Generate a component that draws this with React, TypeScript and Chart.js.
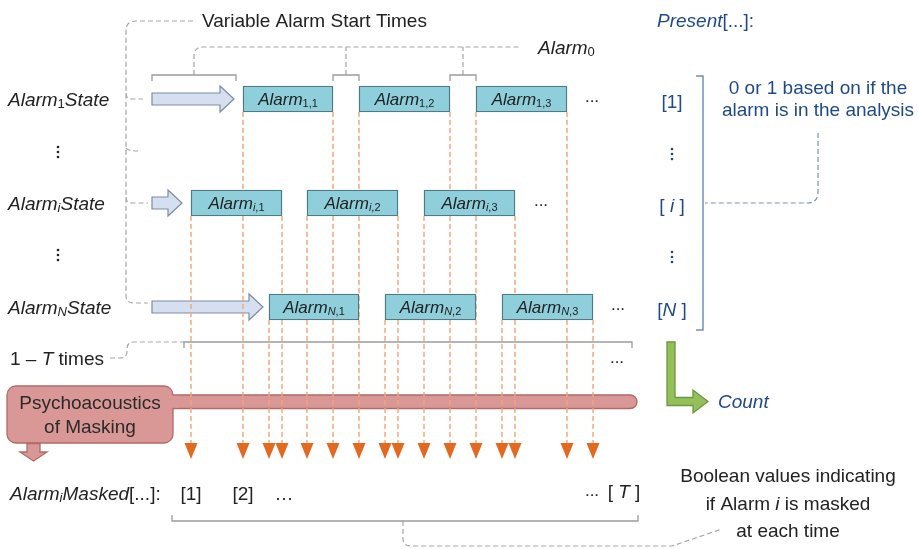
import React, { useEffect, useRef } from 'react';
import { Chart, registerables } from 'chart.js';

Chart.register(...registerables);

const W = 918;
const H = 549;

// ---- diagram data (time axis = x, rows = y) ----
const rowIds = ['1', 'i', 'N'];
const rowItalicSub = [false, true, true];
const rowY = [99, 203, 307];
const alarmStart = [
  [243, 359, 476],
  [191, 307, 424],
  [269, 385, 502],
];
const alarmEnd = [
  [333, 450, 567],
  [282, 398, 515],
  [359, 476, 593],
];
const stateArrowStart = 152;
const stateArrowTip = [234, 182, 263];
const rowEllipsisX = [592, 541, 618];
const boxHeight = 26;
const maskArrowTop = 443;
const maskArrowTip = 459;
const presentX = 672;
const maskedLabels = ['[1]', '[2]', '…'];
const maskedX = [191, 243, 284];
const maskedY = 493;

const FONT = '"Liberation Sans", Arial, Helvetica, sans-serif';
const BLUE_TEXT = '#1f4a86';
const TEXT = '#222222';
const GRAY_DASH = '#a6a6a6';
const GRAY_SOLID = '#9c9c9c';

type Seg = { t: string; it?: boolean; sub?: boolean };

function rich(ctx: CanvasRenderingContext2D, segs: Seg[], x: number, y: number, align: 'left' | 'center' | 'right', size: number, color: string) {
  const subSize = Math.round(size * 0.66);
  const fontFor = (s: Seg) => `${s.it ? 'italic ' : ''}${s.sub ? subSize : size}px ${FONT}`;
  let w = 0;
  for (const s of segs) {
    ctx.font = fontFor(s);
    w += ctx.measureText(s.t).width;
  }
  let cx = align === 'center' ? x - w / 2 : align === 'right' ? x - w : x;
  ctx.fillStyle = color;
  ctx.textAlign = 'left';
  ctx.textBaseline = 'alphabetic';
  const base = y + size * 0.36;
  for (const s of segs) {
    ctx.font = fontFor(s);
    ctx.fillText(s.t, cx, s.sub ? base + size * 0.12 : base);
    cx += ctx.measureText(s.t).width;
  }
}

function vdots(ctx: CanvasRenderingContext2D, x: number, y: number, color: string) {
  ctx.fillStyle = color;
  for (const d of [-5, 0, 5]) {
    ctx.beginPath();
    ctx.arc(x, y + d, 1.3, 0, Math.PI * 2);
    ctx.fill();
  }
}

// unique box edges with the highest box bottom they start from
function boxEdges() {
  const m = new Map<number, number>();
  alarmStart.forEach((r, i) =>
    r.forEach((s, j) => {
      for (const x of [s, alarmEnd[i][j]]) {
        const top = rowY[i] + boxHeight / 2;
        if (!m.has(x) || (m.get(x) as number) > top) m.set(x, top);
      }
    })
  );
  return Array.from(m.entries()).sort((a, b) => a[0] - b[0]);
}

const diagramPlugin = {
  id: 'diagram',
  beforeDatasetsDraw(chart: any) {
    const ctx: CanvasRenderingContext2D = chart.ctx;
    const X = (v: number) => chart.scales.x.getPixelForValue(v);
    const Y = (v: number) => chart.scales.y.getPixelForValue(v);
    ctx.save();

    // --- gray dashed connectors ---
    ctx.strokeStyle = GRAY_DASH;
    ctx.lineWidth = 1.2;
    ctx.setLineDash([5, 3]);
    ctx.beginPath();
    ctx.moveTo(X(193), Y(21));
    ctx.lineTo(X(136), Y(21));
    ctx.quadraticCurveTo(X(126), Y(21), X(126), Y(31));
    ctx.lineTo(X(126), Y(296));
    ctx.quadraticCurveTo(X(126), Y(303), X(134), Y(303));
    ctx.lineTo(X(148), Y(303));
    // branches
    ctx.moveTo(X(126), Y(93));
    ctx.quadraticCurveTo(X(126), Y(99), X(132), Y(99));
    ctx.lineTo(X(143), Y(99));
    ctx.moveTo(X(126), Y(148));
    ctx.quadraticCurveTo(X(128), Y(151), X(138), Y(151));
    ctx.moveTo(X(126), Y(197));
    ctx.quadraticCurveTo(X(126), Y(203), X(132), Y(203));
    ctx.lineTo(X(148), Y(203));
    // alarm0 connector
    const b1c = (stateArrowStart + alarmStart[0][0] - 7) / 2;
    const b2c = (alarmEnd[0][0] + alarmStart[0][1]) / 2;
    const b3c = (alarmEnd[0][1] + alarmStart[0][2]) / 2;
    ctx.moveTo(X(b1c), Y(75));
    ctx.lineTo(X(b1c), Y(56));
    ctx.quadraticCurveTo(X(b1c), Y(47), X(b1c + 9), Y(47));
    ctx.lineTo(X(521), Y(47));
    ctx.moveTo(X(b2c), Y(75));
    ctx.lineTo(X(b2c), Y(47));
    ctx.moveTo(X(b3c), Y(75));
    ctx.lineTo(X(b3c), Y(47));
    // 1 - T times
    ctx.moveTo(X(110), Y(358));
    ctx.lineTo(X(120), Y(358));
    ctx.quadraticCurveTo(X(127), Y(358), X(127), Y(351));
    ctx.lineTo(X(127), Y(349));
    ctx.quadraticCurveTo(X(127), Y(342), X(134), Y(342));
    ctx.lineTo(X(184), Y(342));
    // bottom
    ctx.moveTo(X(403), Y(521));
    ctx.lineTo(X(403), Y(539));
    ctx.quadraticCurveTo(X(403), Y(546), X(411), Y(546));
    ctx.lineTo(X(672), Y(546));
    ctx.lineTo(X(722), Y(529));
    ctx.stroke();

    // right blue dashed
    ctx.strokeStyle = '#7c92b6';
    ctx.beginPath();
    ctx.moveTo(X(818), Y(133));
    ctx.lineTo(X(818), Y(192));
    ctx.quadraticCurveTo(X(818), Y(203), X(807), Y(203));
    ctx.lineTo(X(705), Y(203));
    ctx.stroke();
    ctx.setLineDash([]);

    // --- gray solid brackets ---
    ctx.strokeStyle = GRAY_SOLID;
    ctx.lineWidth = 1.3;
    const bracketDown = (x1: number, x2: number, y: number, h: number) => {
      ctx.beginPath();
      ctx.moveTo(X(x1), Y(y + h));
      ctx.lineTo(X(x1), Y(y));
      ctx.lineTo(X(x2), Y(y));
      ctx.lineTo(X(x2), Y(y + h));
      ctx.stroke();
    };
    bracketDown(stateArrowStart, alarmStart[0][0] - 7, 75, 6);
    bracketDown(alarmEnd[0][0], alarmStart[0][1], 75, 6);
    bracketDown(alarmEnd[0][1], alarmStart[0][2], 75, 6);
    bracketDown(184, 632, 342, 6);
    bracketDown(172, 638, 521, -6);

    // right blue bracket
    ctx.strokeStyle = '#6f8fbf';
    ctx.lineWidth = 1.5;
    ctx.beginPath();
    ctx.moveTo(X(696), Y(76));
    ctx.lineTo(X(703), Y(76));
    ctx.lineTo(X(703), Y(330));
    ctx.lineTo(X(696), Y(330));
    ctx.stroke();

    // --- state block arrows ---
    ctx.lineWidth = 1.2;
    rowY.forEach((cy, i) => {
      const tip = stateArrowTip[i];
      const hl = 14;
      ctx.beginPath();
      ctx.moveTo(X(stateArrowStart), Y(cy - 6));
      ctx.lineTo(X(tip - hl), Y(cy - 6));
      ctx.lineTo(X(tip - hl), Y(cy - 13));
      ctx.lineTo(X(tip), Y(cy));
      ctx.lineTo(X(tip - hl), Y(cy + 13));
      ctx.lineTo(X(tip - hl), Y(cy + 6));
      ctx.lineTo(X(stateArrowStart), Y(cy + 6));
      ctx.closePath();
      ctx.fillStyle = '#d6dff0';
      ctx.fill();
      ctx.strokeStyle = '#7d8ca6';
      ctx.stroke();
    });

    // --- psychoacoustics bar and box ---
    ctx.fillStyle = '#d99896';
    ctx.strokeStyle = '#b06a67';
    ctx.lineWidth = 1.3;
    ctx.beginPath();
    (ctx as any).roundRect(X(165), Y(395), X(637) - X(165), Y(408.5) - Y(395), [0, 6.75, 6.75, 0]);
    ctx.fill();
    ctx.stroke();
    ctx.beginPath();
    (ctx as any).roundRect(X(7), Y(386), X(173) - X(7), Y(443) - Y(386), 9);
    ctx.fill();
    ctx.stroke();
    // merge box with bar
    ctx.fillRect(X(170), Y(395.8), X(178) - X(170), Y(407.7) - Y(395.8));
    // small down arrow
    ctx.beginPath();
    ctx.moveTo(X(27), Y(443.5));
    ctx.lineTo(X(40), Y(443.5));
    ctx.lineTo(X(40), Y(452));
    ctx.lineTo(X(47), Y(452));
    ctx.lineTo(X(33.5), Y(461));
    ctx.lineTo(X(20), Y(452));
    ctx.lineTo(X(27), Y(452));
    ctx.closePath();
    ctx.fill();
    ctx.stroke();

    // --- green L arrow ---
    ctx.fillStyle = '#94bf5a';
    ctx.strokeStyle = '#6a983c';
    ctx.beginPath();
    ctx.moveTo(X(667), Y(342));
    ctx.lineTo(X(675), Y(342));
    ctx.lineTo(X(675), Y(397.5));
    ctx.lineTo(X(693), Y(397.5));
    ctx.lineTo(X(693), Y(390));
    ctx.lineTo(X(708), Y(401.5));
    ctx.lineTo(X(693), Y(413));
    ctx.lineTo(X(693), Y(405.5));
    ctx.lineTo(X(667), Y(405.5));
    ctx.closePath();
    ctx.fill();
    ctx.stroke();

    ctx.restore();
  },
  afterDatasetsDraw(chart: any) {
    const ctx: CanvasRenderingContext2D = chart.ctx;
    const X = (v: number) => chart.scales.x.getPixelForValue(v);
    const Y = (v: number) => chart.scales.y.getPixelForValue(v);
    ctx.save();

    // orange arrowheads
    ctx.fillStyle = '#e2691f';
    for (const [x] of boxEdges()) {
      ctx.beginPath();
      ctx.moveTo(X(x - 6.5), Y(maskArrowTop));
      ctx.lineTo(X(x + 6.5), Y(maskArrowTop));
      ctx.lineTo(X(x), Y(maskArrowTip));
      ctx.closePath();
      ctx.fill();
    }

    // box labels
    rowY.forEach((cy, i) => {
      alarmStart[i].forEach((s, j) => {
        const e = alarmEnd[i][j];
        rich(ctx, [{ t: 'Alarm', it: true }, { t: rowIds[i], it: rowItalicSub[i], sub: true }, { t: `,${j + 1}`, sub: true }], X((s + e) / 2), Y(cy), 'center', 17, TEXT);
      });
      // row labels
      rich(ctx, [{ t: 'Alarm', it: true }, { t: rowIds[i], it: rowItalicSub[i], sub: true }, { t: 'State', it: true }], X(8), Y(cy), 'left', 19, TEXT);
      rich(ctx, [{ t: '...' }], X(rowEllipsisX[i]), Y(cy - 3), 'center', 17, TEXT);
      // present labels
      const lab: Seg[] =
        i === 0 ? [{ t: '[1]' }] : i === 1 ? [{ t: '[ ' }, { t: rowIds[i], it: true }, { t: ' ]' }] : [{ t: '[' }, { t: rowIds[i], it: true }, { t: ' ]' }];
      rich(ctx, lab, X(presentX), Y(cy + 2), 'center', 19, BLUE_TEXT);
    });

    vdots(ctx, X(58), Y(152), TEXT);
    vdots(ctx, X(58), Y(255), TEXT);
    vdots(ctx, X(presentX), Y(154), BLUE_TEXT);
    vdots(ctx, X(presentX), Y(257), BLUE_TEXT);

    rich(ctx, [{ t: 'Variable Alarm Start Times' }], X(202), Y(20), 'left', 19, TEXT);
    rich(ctx, [{ t: 'Alarm', it: true }, { t: '0', sub: true }], X(538), Y(47), 'left', 19, TEXT);
    rich(ctx, [{ t: 'Present', it: true }, { t: '[...]:' }], X(657), Y(20), 'left', 19, BLUE_TEXT);
    rich(ctx, [{ t: '0 or 1 based on if the' }], X(818), Y(87), 'center', 19, BLUE_TEXT);
    rich(ctx, [{ t: 'alarm is in the analysis' }], X(818), Y(109), 'center', 19, BLUE_TEXT);

    rich(ctx, [{ t: '1 – ' }, { t: 'T', it: true }, { t: ' times' }], X(10), Y(358), 'left', 19, TEXT);
    rich(ctx, [{ t: '...' }], X(617), Y(357), 'center', 17, TEXT);
    rich(ctx, [{ t: 'Count', it: true }], X(718), Y(401), 'left', 19, BLUE_TEXT);

    rich(ctx, [{ t: 'Psychoacoustics' }], X(90), Y(402), 'center', 19, '#2a2a2a');
    rich(ctx, [{ t: 'of Masking' }], X(90), Y(426), 'center', 19, '#2a2a2a');

    rich(ctx, [{ t: 'Alarm', it: true }, { t: 'i', it: true, sub: true }, { t: 'Masked', it: true }, { t: '[...]:' }], X(10), Y(maskedY), 'left', 19, TEXT);
    maskedLabels.forEach((l, k) => rich(ctx, [{ t: l }], X(maskedX[k]), Y(maskedY), 'center', 19, TEXT));
    rich(ctx, [{ t: '...' }], X(592), Y(490), 'center', 17, TEXT);
    rich(ctx, [{ t: '[ ' }, { t: 'T', it: true }, { t: ' ]' }], X(624), Y(491), 'center', 19, TEXT);

    rich(ctx, [{ t: 'Boolean values indicating' }], X(788), Y(475), 'center', 19, TEXT);
    rich(ctx, [{ t: 'if Alarm ' }, { t: 'i', it: true }, { t: ' is masked' }], X(788), Y(503), 'center', 19, TEXT);
    rich(ctx, [{ t: 'at each time' }], X(788), Y(530), 'center', 19, TEXT);

    ctx.restore();
  },
};

export default function App() {
  const ref = useRef<HTMLCanvasElement | null>(null);
  useEffect(() => {
    if (!ref.current) return;
    const boxes: any[] = [];
    alarmStart.forEach((r, i) => r.forEach((s, j) => boxes.push({ x: [s, alarmEnd[i][j]], y: rowY[i] })));
    const lineSets = boxEdges().map(([x, top]) => ({
      type: 'line' as const,
      data: [
        { x, y: top },
        { x, y: maskArrowTop },
      ],
      borderColor: '#f2a677',
      borderWidth: 1.4,
      borderDash: [5, 3],
      pointRadius: 0,
      fill: false,
      order: 2,
    }));
    const chart = new Chart(ref.current, {
      type: 'scatter',
      data: {
        datasets: [
          {
            type: 'bar',
            indexAxis: 'y',
            data: boxes,
            backgroundColor: '#8ecfdb',
            borderColor: '#4f7983',
            borderWidth: 1.4,
            borderSkipped: false,
            barThickness: boxHeight,
            order: 0,
          } as any,
          ...(lineSets as any[]),
        ],
      },
      options: {
        animation: false,
        responsive: false,
        devicePixelRatio: 1,
        events: [],
        layout: { padding: 0 },
        plugins: { legend: { display: false }, tooltip: { enabled: false } },
        scales: {
          x: { type: 'linear', min: 0, max: W, display: false, offset: false, grace: 0 },
          y: { type: 'linear', min: 0, max: H, reverse: true, display: false, offset: false, grace: 0 },
        },
      },
      plugins: [diagramPlugin],
    });
    return () => chart.destroy();
  }, []);
  return (
    <div style={{ position: 'fixed', left: 0, top: 0, width: W, height: H, background: '#fff' }}>
      <canvas ref={ref} width={W} height={H} style={{ display: 'block' }} />
    </div>
  );
}
